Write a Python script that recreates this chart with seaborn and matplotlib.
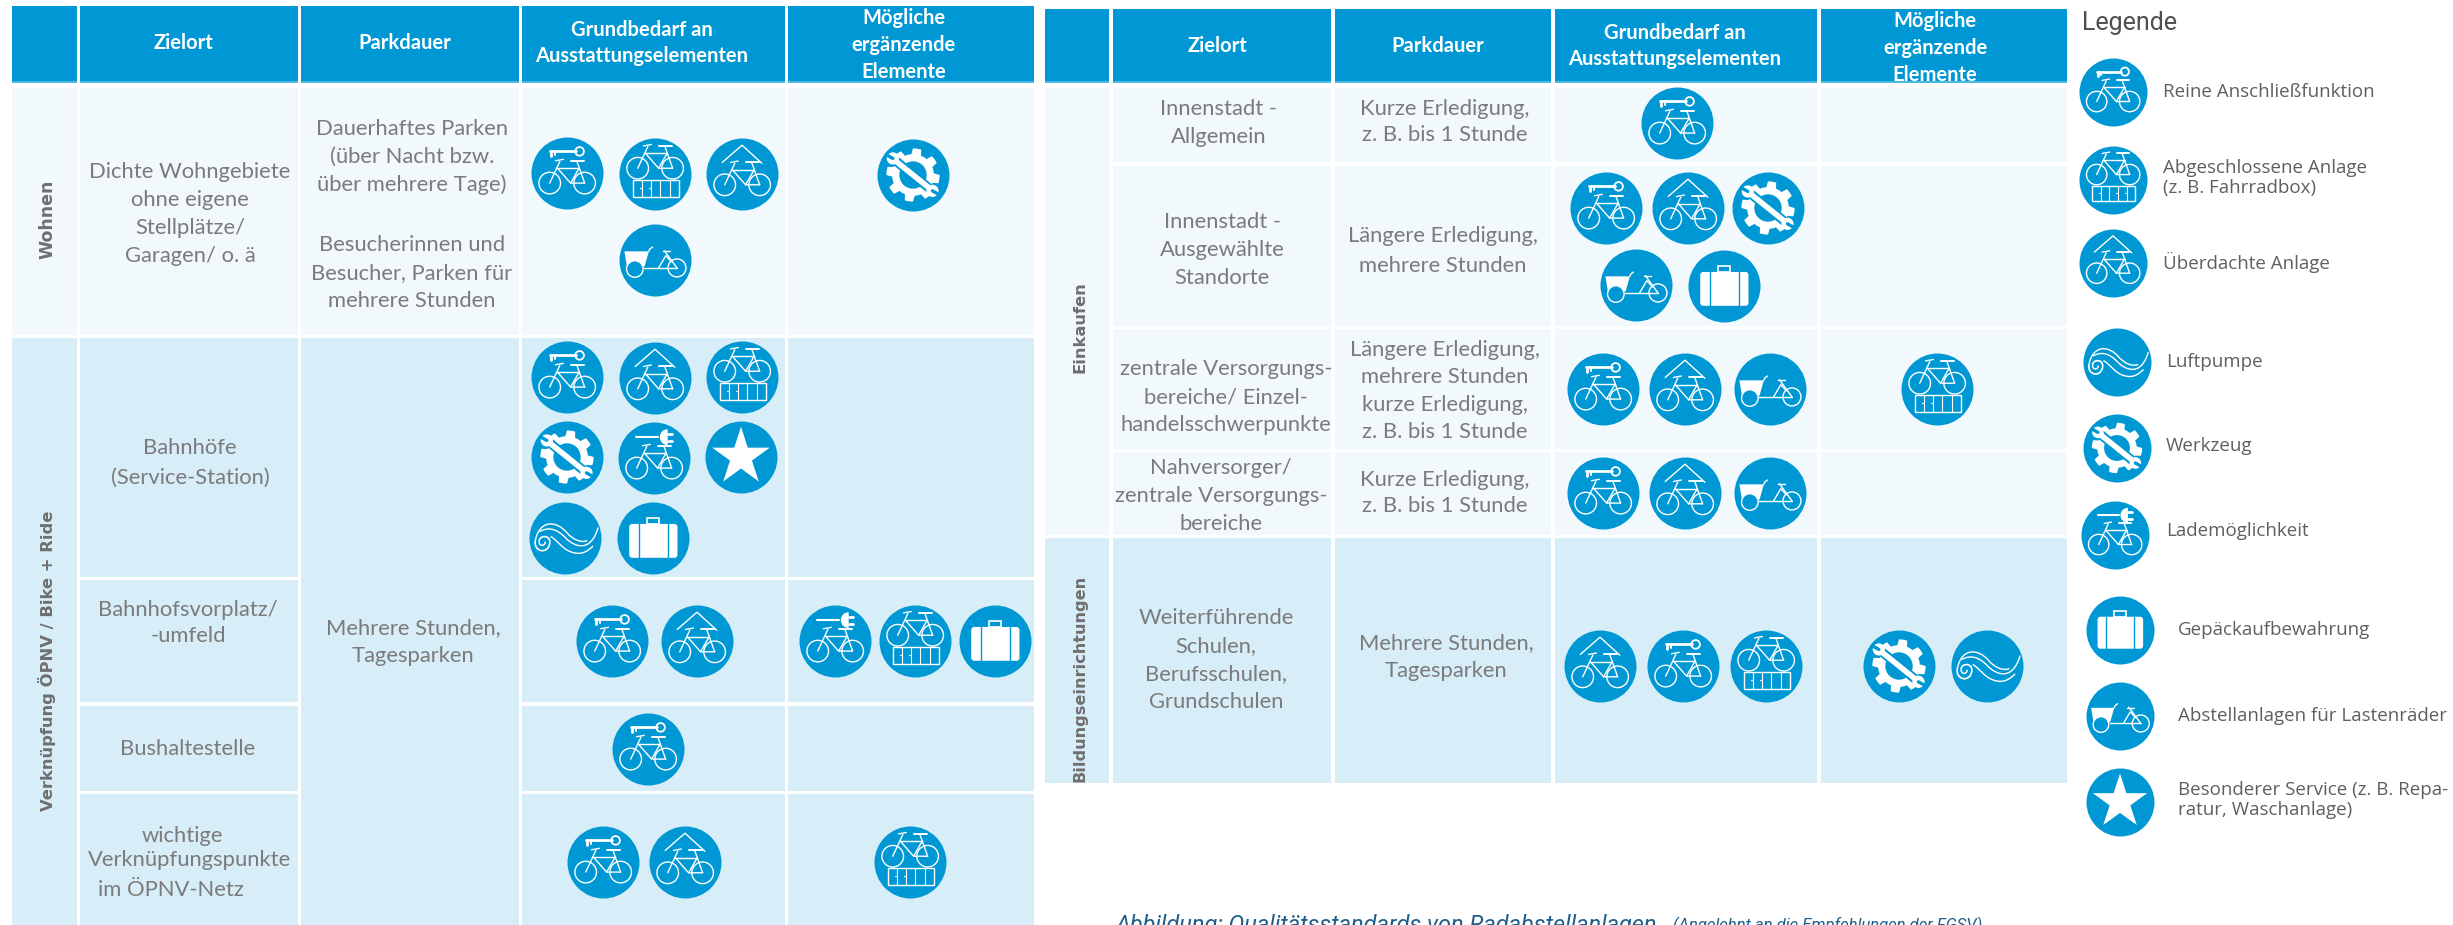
import numpy as np
import pandas as pd
import seaborn as sns
import matplotlib.pyplot as plt
from matplotlib.patches import Circle, Polygon, Rectangle, Wedge, FancyBboxPatch, PathPatch
from matplotlib.path import Path

# --- text of the tables
kopf = ["Zielort", "Parkdauer", "Grundbedarf an\nAusstattungselementen", "Mögliche\nergänzende\nElemente"]

gruppen = ["Wohnen", "Verknüpfung ÖPNV / Bike + Ride", "Einkaufen", "Bildungseinrichtungen"]

zielorte_links = ["Dichte Wohngebiete\nohne eigene\nStellplätze/\nGaragen/ o. ä", "Bahnhöfe\n(Service-Station)",
                  "Bahnhofsvorplatz/\n-umfeld", "Bushaltestelle", "wichtige", "Verknüpfungspunkte", "im ÖPNV-Netz"]
parkdauer_links = ["Dauerhaftes Parken\n(über Nacht bzw.\nüber mehrere Tage)",
                   "Besucherinnen und\nBesucher, Parken für\nmehrere Stunden", "Mehrere Stunden,\nTagesparken"]

zielorte_rechts = ["Innenstadt -\nAllgemein", "Innenstadt -\nAusgewählte\nStandorte",
                   "zentrale Versorgungs-\nbereiche/ Einzel-\nhandelsschwerpunkte",
                   "Nahversorger/\nzentrale Versorgungs-\nbereiche",
                   "Weiterführende\nSchulen,\nBerufsschulen,\nGrundschulen"]
parkdauer_rechts = ["Kurze Erledigung,\nz. B. bis 1 Stunde", "Längere Erledigung,\nmehrere Stunden",
                    "Längere Erledigung,\nmehrere Stunden\nkurze Erledigung,\nz. B. bis 1 Stunde",
                    "Kurze Erledigung,\nz. B. bis 1 Stunde", "Mehrere Stunden,\nTagesparken"]

# --- which icons stand in which cell, row by row
icons_wohnen = ["key", "box", "roof", "tool", "cargo"]
icons_bahnhof = ["key", "roof", "box", "tool", "plug", "star", "air", "case"]
icons_vorplatz = ["key", "roof", "plug", "box", "case"]
icons_bus = ["key"]
icons_punkte = ["key", "roof", "box"]
icons_innen1 = ["key"]
icons_innen2 = ["key", "roof", "tool", "cargo", "case"]
icons_zentral = ["key", "roof", "cargo", "box"]
icons_nah = ["key", "roof", "cargo"]
icons_bildung = ["roof", "key", "box", "tool", "air"]

legende_titel = "Legende"
legende_icons = ["key", "box", "roof", "air", "tool", "plug", "case", "cargo", "star"]
legende_texte = ["Reine Anschließfunktion", "Abgeschlossene Anlage\n(z. B. Fahrradbox)", "Überdachte Anlage",
                 "Luftpumpe", "Werkzeug", "Lademöglichkeit", "Gepäckaufbewahrung",
                 "Abstellanlagen für Lastenräder", "Besonderer Service (z. B. Repa-\nratur, Waschanlage)"]

caption_gross = "Abbildung: Qualitätsstandards von Radabstellanlagen"
caption_klein = "(Angelehnt an die Empfehlungen der FGSV)"

# --- layout in picture pixels
BLAU = "#0098d4"
HELL = "#f1f9fd"
MITTEL = "#d7edf7"
GRAU = "#7b7b7b"

spalten_l = [(12, 77), (80, 298), (301, 519), (522, 785), (788, 1034)]
spalten_r = [(1045, 1109), (1113, 1331), (1335, 1551), (1555, 1817), (1821, 2067)]

pos_wohnen = [(567, 173), (655, 174), (742, 174), (913, 175), (655, 260)]
pos_bahnhof = [(567, 377), (655, 378), (742, 377), (567, 457), (654, 458), (741, 457), (565, 538), (653, 538)]
pos_vorplatz = [(612, 641), (697, 641), (835, 641), (915, 641), (995, 641)]
pos_bus = [(648, 749)]
pos_punkte = [(603, 862), (685, 862), (910, 862)]
pos_innen1 = [(1677, 123)]
pos_innen2 = [(1606, 208), (1688, 208), (1768, 208), (1636, 285), (1724, 286)]
pos_zentral = [(1603, 389), (1685, 389), (1770, 389), (1937, 389)]
pos_nah = [(1603, 493), (1685, 493), (1770, 493)]
pos_bildung = [(1600, 666), (1683, 666), (1766, 666), (1899, 666), (1987, 666)]
pos_legende = [(2113, 92), (2113, 180), (2113, 263), (2117, 362), (2117, 448), (2115, 535), (2120, 630), (2120, 716), (2120, 802)]

tabelle = [(icons_wohnen, pos_wohnen), (icons_bahnhof, pos_bahnhof), (icons_vorplatz, pos_vorplatz),
           (icons_bus, pos_bus), (icons_punkte, pos_punkte), (icons_innen1, pos_innen1), (icons_innen2, pos_innen2),
           (icons_zentral, pos_zentral), (icons_nah, pos_nah), (icons_bildung, pos_bildung)]

LW = 1.0
sns.set_theme(style="white")
plt.rcParams["font.family"] = ["Lato", "DejaVu Sans"]

fig = plt.figure(figsize=(24.53, 9.25), dpi=100)
ax = fig.add_axes([0, 0, 1, 1])


def zelle(x0, x1, y0, y1, farbe):
    ax.bar(x0, y1 - y0, width=x1 - x0, bottom=y0, align="edge", color=farbe, linewidth=0, zorder=1)


# --- glyph parts, all in units of the circle radius around (cx, cy)
def linie(cx, cy, r, punkte, lw=LW, farbe="white", z=5):
    p = np.array(punkte, dtype=float)
    ax.plot(cx + p[:, 0] * r, cy + p[:, 1] * r, color=farbe, lw=lw, solid_capstyle="round", zorder=z)


def rad(cx, cy, r, x, y, rr, fill="none", lw=LW, z=5):
    ax.add_patch(Circle((cx + x * r, cy + y * r), rr * r, fc=fill, ec="white", lw=lw, zorder=z))


def fahrrad(cx, cy, r, dy):
    rad(cx, cy, r, -.48, dy, .30)
    rad(cx, cy, r, .49, dy, .30)
    linie(cx, cy, r, [(-.48, dy), (-.20, dy - .60)])
    linie(cx, cy, r, [(-.32, dy - .62), (-.10, dy - .66)])
    linie(cx, cy, r, [(-.27, dy - .42), (.34, dy - .42)])
    linie(cx, cy, r, [(-.27, dy - .42), (.10, dy), (.49, dy)])
    linie(cx, cy, r, [(.10, dy), (.34, dy - .42)])
    linie(cx, cy, r, [(.49, dy), (.27, dy - .62)])
    linie(cx, cy, r, [(.12, dy - .62), (.46, dy - .62)], lw=LW + .4)


def kurve(cx, cy, r, verts, lw=LW):
    v = np.array(verts, dtype=float) * r + [cx, cy]
    codes = [Path.MOVETO] + [Path.CURVE4] * (len(v) - 1)
    ax.add_patch(PathPatch(Path(v, codes), fc="none", ec="white", lw=lw, zorder=5))


def glyph(name, cx, cy, r):
    if name == "key":
        fahrrad(cx, cy, r, .28)
        linie(cx, cy, r, [(-.48, -.60), (.24, -.60)], lw=LW + 1)
        linie(cx, cy, r, [(-.44, -.60), (-.44, -.46)], lw=LW + 1)
        linie(cx, cy, r, [(-.34, -.60), (-.34, -.50)], lw=LW + .4)
        rad(cx, cy, r, .35, -.60, .12, lw=LW + .3)
    elif name == "roof":
        fahrrad(cx, cy, r, .30)
        linie(cx, cy, r, [(-.55, -.32), (0, -.80), (.55, -.30)])
    elif name == "box":
        fahrrad(cx, cy, r, -.16)
        ax.add_patch(Rectangle((cx - .62 * r, cy + .17 * r), 1.28 * r, .46 * r, fc="none", ec="white", lw=LW, zorder=5))
        for k in range(1, 5):
            x = -.62 + k * .256
            linie(cx, cy, r, [(x, .17), (x, .63)], lw=LW - .2)
            linie(cx, cy, r, [(x - .05, .38), (x - .03, .38)], lw=LW - .2)
    elif name == "plug":
        fahrrad(cx, cy, r, .28)
        linie(cx, cy, r, [(-.49, -.58), (.12, -.58)], lw=LW + .5)
        ax.add_patch(Wedge((cx + .38 * r, cy - .58 * r), .22 * r, 90, 270, fc="white", lw=0, zorder=5))
        linie(cx, cy, r, [(.38, -.68), (.50, -.68)], lw=LW + 1)
        linie(cx, cy, r, [(.38, -.48), (.50, -.48)], lw=LW + 1)
    elif name == "star":
        w = np.deg2rad(-90 + 36 * np.arange(10))
        rr = np.where(np.arange(10) % 2 == 0, .84, .32)
        ax.add_patch(Polygon(np.c_[cx + rr * r * np.cos(w), cy + rr * r * np.sin(w)], fc="white", lw=0, zorder=5))
    elif name == "case":
        ax.add_patch(FancyBboxPatch((cx - .66 * r, cy - .39 * r), 1.34 * r, .94 * r, boxstyle="round,pad=0,rounding_size=3",
                                    fc="white", lw=0, mutation_scale=1, zorder=5))
        ax.add_patch(Rectangle((cx - .17 * r, cy - .55 * r), .34 * r, .16 * r, fc="none", ec="white", lw=LW + .2, zorder=5))
        for x in (-.40, .41):
            linie(cx, cy, r, [(x, -.39), (x, .55)], lw=LW, farbe=BLAU, z=6)
    elif name == "cargo":
        ax.add_patch(Polygon([(cx - .85 * r, cy - .24 * r), (cx - .17 * r, cy - .24 * r), (cx - .29 * r, cy + .18 * r),
                              (cx - .78 * r, cy + .18 * r)], fc="white", lw=0, zorder=5))
        rad(cx, cy, r, -.56, .25, .23, fill=BLAU, z=6)
        rad(cx, cy, r, .61, .22, .25)
        linie(cx, cy, r, [(-.30, .22), (.61, .22)])
        linie(cx, cy, r, [(.10, .22), (.30, -.12), (.46, .05)])
        linie(cx, cy, r, [(.26, -.26), (.61, .22)])
        linie(cx, cy, r, [(.22, -.25), (.41, -.25)])
        linie(cx, cy, r, [(-.17, -.24), (-.15, -.30), (-.07, -.36)])
    elif name == "tool":
        w = np.linspace(0, 2 * np.pi, 80, endpoint=False)
        rr = np.where(np.sin(8 * w + .35) > 0, .74, .58)
        ax.add_patch(Polygon(np.c_[cx + rr * r * np.cos(w), cy + rr * r * np.sin(w)], fc="white", lw=0, zorder=5))
        ax.add_patch(Circle((cx, cy), .38 * r, fc=BLAU, lw=0, zorder=6))
        linie(cx, cy, r, [(-.56, -.46), (.54, .44)], lw=6.8, farbe=BLAU, z=7)
        linie(cx, cy, r, [(-.52, -.42), (.50, .40)], lw=4.0, z=8)
        for x, y, dx, dy in ((-.56, -.46, -.18, -.10), (.54, .44, .18, .10)):
            ax.add_patch(Circle((cx + x * r, cy + y * r), .17 * r, fc="white", lw=0, zorder=8))
            linie(cx, cy, r, [(x, y), (x + dx, y + dy)], lw=2.4, farbe=BLAU, z=9)
    elif name == "air":
        kurve(cx, cy, r, [(-.82, .05), (-.70, -.50), (-.25, -.50), (.05, -.15), (.20, .03), (.45, .15), (.62, .07)])
        kurve(cx, cy, r, [(-.70, -.18), (-.45, -.32), (-.22, -.25), (.02, .0), (.28, .27), (.72, .40), (.92, -.29)])
        kurve(cx, cy, r, [(-.40, -.04), (-.20, .05), (-.05, .38), (.30, .42), (.48, .45), (.62, .38), (.78, .22)])
        kurve(cx, cy, r, [(-.82, .05), (-.90, .40), (-.45, .48), (-.42, .12), (-.42, -.10), (-.72, -.08), (-.72, .10)], lw=LW + .2)
        kurve(cx, cy, r, [(-.72, .10), (-.72, .24), (-.55, .24), (-.55, .10)])


# --- table cells: left table
for x0, x1 in spalten_l:
    zelle(x0, x1, 6, 83, BLAU)
    zelle(x0, x1, 81, 83, "#4fb9e2")
    zelle(x0, x1, 88, 335, HELL)
for i, (x0, x1) in enumerate(spalten_l):
    if i in (0, 2):
        zelle(x0, x1, 338, 925, MITTEL)
    else:
        for y0, y1 in ((338, 577), (580, 702), (706, 791), (794, 925)):
            zelle(x0, x1, y0, y1, MITTEL)

# --- table cells: right table
for x0, x1 in spalten_r:
    zelle(x0, x1, 9, 83, BLAU)
    zelle(x0, x1, 81, 83, "#4fb9e2")
for i, (x0, x1) in enumerate(spalten_r):
    if i == 0:
        zelle(x0, x1, 88, 535, HELL)
    else:
        for y0, y1 in ((88, 162), (166, 326), (329, 449), (452, 535)):
            zelle(x0, x1, y0, y1, HELL)
    zelle(x0, x1, 538, 783, MITTEL)

# --- circles of all icons, through seaborn
tab = pd.DataFrame([(n, x, y) for names, pos in tabelle for n, (x, y) in zip(names, pos)], columns=["icon", "x", "y"])
leg = pd.DataFrame({"icon": legende_icons, "x": [p[0] for p in pos_legende], "y": [p[1] for p in pos_legende]})
R_T, R_L = 36, 34
sns.scatterplot(data=tab, x="x", y="y", s=(2 * R_T * .72) ** 2, color=BLAU, linewidth=0, ax=ax, zorder=3, legend=False)
sns.scatterplot(data=leg, x="x", y="y", s=(2 * R_L * .72) ** 2, color=BLAU, linewidth=0, ax=ax, zorder=3, legend=False)
for _, z in tab.iterrows():
    glyph(z.icon, z.x, z.y, R_T)
for _, z in leg.iterrows():
    glyph(z.icon, z.x, z.y, R_L)


def txt(x, y, s, size=15.8, farbe=GRAU, pitch=30, **kw):
    kw.setdefault("ha", "center")
    kw.setdefault("va", "center")
    # pitch = distance of the lines in pixels
    kw.setdefault("linespacing", pitch / 20.1)
    ax.text(x, y, s, fontsize=size, color=farbe, zorder=10, **kw)


# header
for (x, y), s in zip([(184, 43), (405, 43), (642, 43), (904, 45)], kopf):
    txt(x, y, s, size=14.5, farbe="white", fontweight="bold", linespacing=1.42)
for (x, y), s in zip([(1217, 46), (1438, 46), (1675, 46), (1935, 48)], kopf):
    txt(x, y, s, size=14.5, farbe="white", fontweight="bold", linespacing=1.42)

# side labels
for (x, y), s, g in zip([(47, 219), (47, 661), (1080, 327), (1080, 678)], gruppen, [12.5, 11.8, 11.8, 11.6]):
    txt(x, y, s, size=g, farbe="#6f6f6f", fontweight="bold", rotation=90, family="DejaVu Sans")

# left body
for (x, y), s, p in zip([(190, 214), (190, 463), (188, 623), (188, 749), (182, 836), (190, 860), (171, 890)],
                        zielorte_links, [30, 32, 27, 30, 30, 30, 30]):
    txt(x, y, s, pitch=p)
for (x, y), s in zip([(412, 157), (412, 273), (413, 642)], parkdauer_links):
    txt(x, y, s)

# right body
for (x, y), s in zip([(1219, 123), (1222, 250), (1226, 397), (1221, 496), (1216, 660)], zielorte_rechts):
    txt(x, y, s)
for (x, y), s, p in zip([(1445, 122), (1443, 251), (1445, 391), (1445, 493), (1446, 657)], parkdauer_rechts, [27, 32, 29, 28, 30]):
    txt(x, y, s, pitch=p)

# legend
txt(2082, 23, legende_titel, size=18, farbe="#4f4f4f", ha="left", family=["Roboto", "DejaVu Sans"])
leg_tx = [(2163, 92), (2163, 178), (2163, 262), (2166, 362), (2166, 446), (2166, 531), (2178, 630), (2178, 716), (2178, 800)]
for (x, y), s in zip(leg_tx, legende_texte):
    txt(x, y, s, size=13.5, farbe="#5f5f5f", ha="left", family=["Open Sans", "DejaVu Sans"], linespacing=1.18)

# caption, cut by the lower picture edge like in the reference
txt(1116, 914, caption_gross, size=16.9, farbe="#1f5f8b", ha="left", va="top", style="italic", family=["Roboto", "DejaVu Sans"])
txt(1673, 917, caption_klein, size=12, farbe="#1f5f8b", ha="left", va="top", style="italic", family=["Roboto", "DejaVu Sans"])

ax.set_xlim(0, 2453)
ax.set_ylim(925, 0)
ax.set_axis_off()
fig.savefig("out.png", dpi=100)
